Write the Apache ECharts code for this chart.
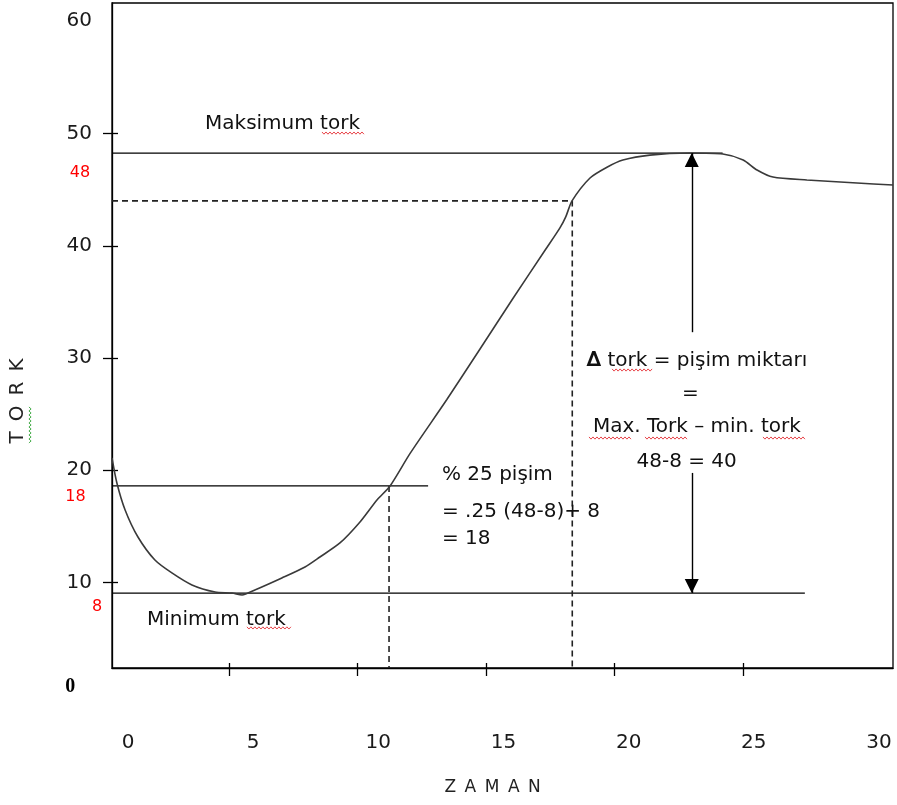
<!DOCTYPE html>
<html>
<head>
<meta charset="utf-8">
<script src="https://cdn.jsdelivr.net/npm/echarts@6/dist/echarts.min.js"></script>
<style>
html,body{margin:0;padding:0;background:#ffffff;}
#chart{width:897px;height:805px;}
</style>
</head>
<body>
<div id="chart"></div>
<script>
// ---------- data ----------
const xTickValues = [5, 10, 15, 20, 25];
const xTickLabels = [0, 5, 10, 15, 20, 25, 30];
const yTickValues = [10, 20, 30, 40, 50];
const yTickLabels = [10, 20, 30, 40, 50, 60];

// rheometer curve: time (ZAMAN) and torque (TORK)
const curveTime = [0.44, 0.63, 0.95, 1.45, 2.11, 2.77, 3.55, 4.45, 5.11, 5.5, 6.0, 7.05, 7.95, 8.53, 9.31, 10.09, 10.75, 11.26, 12.04, 13.47, 14.76, 16.04, 17.29, 17.87, 18.1, 18.34, 19.04, 19.7, 20.32, 21.37, 22.93, 24.21, 25.0, 25.54, 26.16, 27.48, 29.43, 30.83];
const curveTorque = [21.1, 18.86, 16.46, 14.05, 12.0, 10.85, 9.78, 9.15, 9.06, 8.89, 9.33, 10.4, 11.38, 12.27, 13.52, 15.39, 17.35, 18.6, 21.5, 26.3, 30.8, 35.3, 39.6, 41.6, 42.6, 44.0, 46.04, 47.0, 47.64, 48.08, 48.26, 48.17, 47.64, 46.75, 46.12, 45.86, 45.59, 45.41];

// reference levels (as drawn)
const maxTork = 48.26;
const minTork = 9.06;
const cure25Tork = 18.6;
const cure90Tork = 44.0;
const cure25Time = 11.22;
const cure90Time = 18.35;
const deltaTime = 23.0;
const maxLineEndTime = 24.2;
const minLineEndTime = 27.4;
const cure25LineEndTime = 12.74;
const arrowGapTop = 32.3;
const arrowGapBottom = 19.76;

// texts
const redLevelLabels = ['48', '18', '8'];
const maxText = 'Maksimum tork';
const minText = 'Minimum tork';
const cure25Texts = ['% 25 pişim', '= .25 (48-8)+ 8', '= 18'];
const deltaTexts = ['{b|∆} tork = pişim miktarı', '=', 'Max. Tork – min. tork', '48-8 = 40'];
const zeroText = '0';
const xName = 'Z\u2002A\u2002M\u2002A\u2002N';
const yName = 'T\u2002O\u2002R\u2002K';

// ---------- layout ----------
const X_MIN = 0.44, X_MAX = 30.83;
const Y_MIN = 2.38, Y_MAX = 61.63;
const LX_MIN = -0.64, LX_MAX = 30.56;   // scale used only for placing the x tick labels
const FONT = '"DejaVu Sans", Verdana, sans-serif';

const chart = echarts.init(document.getElementById('chart'), null, {renderer: 'canvas'});

const solid = {color: '#000', width: 1.3};
const dashed = {color: '#222', width: 1.6, type: [6, 4]};

function seg(xs, ys) { return xs.map((x, i) => [x, ys[i]]); }

const option = {
  animation: false,
  backgroundColor: '#ffffff',
  grid: {left: 112, right: 4, top: 3, bottom: 137, show: true, borderColor: '#000', borderWidth: 1.3, backgroundColor: 'transparent'},
  xAxis: [
    {type: 'value', min: X_MIN, max: X_MAX, position: 'bottom',
     axisLine: {show: true, onZero: false, lineStyle: solid},
     axisTick: {show: true, customValues: xTickValues, length: 8, lineStyle: solid},
     axisLabel: {show: false}, splitLine: {show: false}},
    {type: 'value', min: X_MIN, max: X_MAX, position: 'bottom',
     axisLine: {show: false, onZero: false},
     axisTick: {show: true, inside: true, customValues: xTickValues, length: 5, lineStyle: solid},
     axisLabel: {show: false}, splitLine: {show: false}},
    {type: 'value', min: LX_MIN, max: LX_MAX, position: 'bottom',
     axisLine: {show: false, onZero: false}, axisTick: {show: false}, splitLine: {show: false},
     axisLabel: {show: true, customValues: xTickLabels, margin: 65, fontSize: 20, fontFamily: FONT, color: '#1a1a1a'}}
  ],
  yAxis: [
    {type: 'value', min: Y_MIN, max: Y_MAX, position: 'left',
     axisLine: {show: true, onZero: false, lineStyle: solid},
     axisTick: {show: true, customValues: yTickValues, length: 9, lineStyle: solid},
     axisLabel: {show: true, customValues: yTickLabels, margin: 20, fontSize: 20, fontFamily: FONT, color: '#1a1a1a'},
     splitLine: {show: false}},
    {type: 'value', min: Y_MIN, max: Y_MAX, position: 'left',
     axisLine: {show: false, onZero: false},
     axisTick: {show: true, inside: true, customValues: yTickValues, length: 6, lineStyle: solid},
     axisLabel: {show: false}, splitLine: {show: false}}
  ],
  series: [
    {name: 'maxLine', type: 'line', xAxisIndex: 0, yAxisIndex: 0, symbol: 'none', silent: true,
     lineStyle: solid, data: seg([X_MIN, maxLineEndTime], [maxTork, maxTork])},
    {name: 'minLine', type: 'line', xAxisIndex: 0, yAxisIndex: 0, symbol: 'none', silent: true,
     lineStyle: solid, data: seg([X_MIN, minLineEndTime], [minTork, minTork])},
    {name: 'cure25Line', type: 'line', xAxisIndex: 0, yAxisIndex: 0, symbol: 'none', silent: true,
     lineStyle: solid, data: seg([X_MIN, cure25LineEndTime], [cure25Tork, cure25Tork])},
    {name: 'cure25Drop', type: 'line', xAxisIndex: 0, yAxisIndex: 0, symbol: 'none', silent: true,
     lineStyle: dashed, data: seg([cure25Time, cure25Time], [cure25Tork, Y_MIN])},
    {name: 'cure90Lines', type: 'line', xAxisIndex: 0, yAxisIndex: 0, symbol: 'none', silent: true,
     lineStyle: dashed, data: seg([X_MIN, cure90Time, cure90Time], [cure90Tork, cure90Tork, Y_MIN])},
    {name: 'curve', type: 'line', xAxisIndex: 0, yAxisIndex: 0, symbol: 'none', smooth: 0.25, silent: true,
     lineStyle: {color: '#3a3a3a', width: 1.6}, data: seg(curveTime, curveTorque),
     markLine: {
       silent: true, animation: false,
       symbol: ['none', 'triangle'], symbolSize: [14, 14], symbolOffset: [0, [0, 7]],
       label: {show: false},
       lineStyle: {color: '#000', width: 1.4, type: 'solid'},
       data: [
         [{coord: [deltaTime, arrowGapTop]}, {coord: [deltaTime, maxTork]}],
         [{coord: [deltaTime, arrowGapBottom]}, {coord: [deltaTime, minTork]}]
       ]
     }}
  ]
};
chart.setOption(option);

// ---------- text annotations placed through the axis scales ----------
function px(x, y) { return chart.convertToPixel({xAxisIndex: 0, yAxisIndex: 0}, [x, y]); }
function txt(x, y, text, opts) {
  const p = px(x, y);
  const o = opts || {};
  return {
    type: 'text', x: p[0], y: p[1], rotation: o.rotation || 0, silent: true, z: 10,
    style: {
      text: text, fill: o.color || '#111',
      font: o.font || ('20px ' + FONT),
      align: o.align || 'left', verticalAlign: 'middle',
      rich: o.rich
    }
  };
}
// spell-check style wavy underline between two anchor points
function squiggle(x1, y1, x2, y2, color) {
  const a = px(x1, y1), b = px(x2, y2);
  const len = Math.hypot(b[0] - a[0], b[1] - a[1]);
  const ux = (b[0] - a[0]) / len, uy = (b[1] - a[1]) / len;
  const nx = -uy, ny = ux;
  const pts = [];
  const step = 2;
  for (let d = 0, k = 0; d <= len; d += step, k++) {
    const off = (k % 2 === 0 ? -1 : 1) * 1.1;
    pts.push([a[0] + ux * d + nx * off, a[1] + uy * d + ny * off]);
  }
  return {type: 'polyline', silent: true, z: 9, shape: {points: pts},
          style: {stroke: color, lineWidth: 1, fill: null}};
}
const redFont = '16px ' + FONT;
const wavyRed = '#e8454a';
const wavyGreen = '#4caf50';
const graphics = [
  txt(4.06, 50.9, maxText),
  txt(1.80, 6.66, minText),
  txt(13.28, 19.58, cure25Texts[0]),
  txt(13.28, 16.28, cure25Texts[1]),
  txt(13.28, 13.87, cure25Texts[2]),
  txt(23.2, 29.73, deltaTexts[0], {align: 'center', rich: {b: {fontWeight: 'bold', fontSize: 21, fontFamily: FONT, fill: '#111'}}}),
  txt(22.95, 26.8, deltaTexts[1], {align: 'center'}),
  txt(23.2, 23.85, deltaTexts[2], {align: 'center'}),
  txt(22.8, 20.73, deltaTexts[3], {align: 'center'}),
  txt(-0.81, 46.48, redLevelLabels[0], {align: 'center', color: '#ff0000', font: redFont}),
  txt(-0.98, 17.62, redLevelLabels[1], {align: 'center', color: '#ff0000', font: redFont}),
  txt(-0.14, 7.82, redLevelLabels[2], {align: 'center', color: '#ff0000', font: redFont}),
  txt(-1.18, 0.69, zeroText, {align: 'center', color: '#000', font: 'bold 20px "Liberation Serif", serif'}),
  txt(15.25, -8.31, xName, {align: 'center', color: '#222', font: '17px ' + FONT}),
  txt(-3.22, 26.17, yName, {align: 'center', color: '#222', font: '20px ' + FONT, rotation: Math.PI / 2}),
  squiggle(8.61, 50.04, 10.28, 50.04, wavyRed),
  squiggle(5.69, 5.95, 7.44, 5.95, wavyRed),
  squiggle(19.9, 28.93, 21.49, 28.93, wavyRed),
  squiggle(19.0, 22.87, 20.67, 22.87, wavyRed),
  squiggle(21.18, 22.87, 22.85, 22.87, wavyRed),
  squiggle(25.77, 22.87, 27.41, 22.87, wavyRed),
  squiggle(-2.75, 22.43, -2.75, 25.81, wavyGreen)
];
chart.setOption({graphic: graphics});
</script>
</body>
</html>
